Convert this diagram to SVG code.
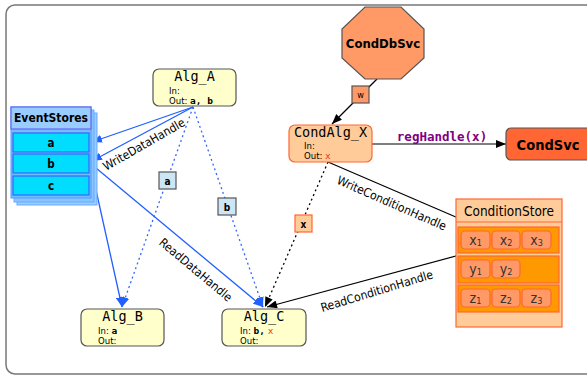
<svg xmlns="http://www.w3.org/2000/svg" width="587" height="376" viewBox="0 0 587 376">
<style>
  .sans { font-family: "DejaVu Sans Condensed", "DejaVu Sans", sans-serif; }
  .mono { font-family: "DejaVu Sans Mono", "Liberation Mono", monospace; }
  .alg { fill: #ffffcc; stroke: #555; stroke-width: 1.2; }
  .title { font-size: 13.5px; fill: #000; text-anchor: middle; }
  .small { font-size: 9.5px; fill: #000; }
  .bm { font-family: "DejaVu Sans Mono", monospace; font-weight: bold; }
  .red { fill: #ff3300; }
  .blue { stroke: #2060ff; stroke-width: 1.3; fill: none; }
  .bluedot { stroke: #3366ff; stroke-width: 1.3; fill: none; stroke-dasharray: 2 3; }
  .black { stroke: #000; stroke-width: 1.2; fill: none; }
  .blackdot { stroke: #000; stroke-width: 1.3; fill: none; stroke-dasharray: 2 3; }
  .lbl { font-size: 12px; fill: #000; text-anchor: middle; }
  .item { fill: #ff9966; stroke: #ff6633; stroke-width: 1.2; }
  .row { fill: #ff9900; stroke: #ff6633; stroke-width: 1.2; }
  .it { font-family: "DejaVu Sans Condensed", "DejaVu Sans", sans-serif; font-size: 14px; fill: #333; text-anchor: middle; }
  .es { fill: #00ddff; stroke: #3366ff; stroke-width: 1.2; }
  .lab { font-size: 10px; font-weight: bold; text-anchor: middle; }
</style>
<defs>
  <marker id="ab" viewBox="0 0 10 8" refX="10" refY="4" markerWidth="10" markerHeight="8" markerUnits="userSpaceOnUse" orient="auto">
    <path d="M0,0 L10,4 L0,8 z" fill="#2060ff"/>
  </marker>
  <marker id="ak" viewBox="0 0 10 8" refX="10" refY="4" markerWidth="11" markerHeight="8" markerUnits="userSpaceOnUse" orient="auto">
    <path d="M0,0 L10,4 L0,8 z" fill="#000"/>
  </marker>
</defs>

<rect x="6" y="5" width="620" height="369" rx="9" fill="#fff" stroke="#777" stroke-width="1.5"/>

<g id="connectors">
  <line class="blue" x1="193" y1="107" x2="92" y2="142" marker-end="url(#ab)"/>
  <line class="blue" x1="193" y1="107" x2="92" y2="161" marker-end="url(#ab)"/>
  <line class="bluedot" x1="193" y1="107" x2="122" y2="307" marker-end="url(#ab)"/>
  <line class="bluedot" x1="193" y1="107" x2="263" y2="307" marker-end="url(#ab)"/>
  <line class="blue" x1="90" y1="163" x2="122" y2="307" marker-end="url(#ab)"/>
  <line class="blue" x1="90" y1="163" x2="263" y2="307" marker-end="url(#ab)"/>
  <line class="blackdot" x1="328" y1="162" x2="265" y2="307" marker-end="url(#ak)"/>
  <line class="black" x1="328" y1="162" x2="493" y2="233" marker-end="url(#ak)"/>
  <line class="black" x1="493" y1="246" x2="267" y2="307" marker-end="url(#ak)"/>
  <line class="black" x1="377" y1="79" x2="332" y2="124" marker-end="url(#ak)"/>
  <line class="black" x1="372" y1="144" x2="506" y2="144" marker-end="url(#ak)"/>

  <text class="sans lbl" transform="translate(146,148) rotate(-30)">WriteDataHandle</text>
  <text class="sans lbl" transform="translate(193,273) rotate(40)">ReadDataHandle</text>
  <text class="sans lbl" transform="translate(390,207) rotate(23.6)">WriteConditionHandle</text>
  <text class="sans lbl" transform="translate(378,295) rotate(-17)">ReadConditionHandle</text>
  <text class="mono" x="442" y="141" font-size="12.5" font-weight="bold" fill="#800080" text-anchor="middle">regHandle(x)</text>

  <g id="lab-a">
    <rect x="159" y="172" width="17" height="17" fill="#cce6f5" stroke="#555" stroke-width="1.2"/>
    <text class="sans lab" x="167.5" y="184.5">a</text>
  </g>
  <g id="lab-b">
    <rect x="218" y="198" width="18" height="17" fill="#cce6f5" stroke="#555" stroke-width="1.2"/>
    <text class="sans lab" x="227" y="210.5">b</text>
  </g>
  <g id="lab-x">
    <rect x="295" y="215" width="17" height="17" fill="#ffcc99" stroke="#ff6633" stroke-width="1.2"/>
    <text class="sans lab" x="303.5" y="227.5">x</text>
  </g>
  <g id="lab-w">
    <rect x="352" y="86" width="17" height="17" fill="#ff9966" stroke="#555" stroke-width="1.2"/>
    <text class="sans" x="360.5" y="98" font-size="9" text-anchor="middle">w</text>
  </g>
</g>

<g id="EventStores">
  <rect x="17" y="113" width="80" height="92" fill="#99ccff" stroke="#66aaff" stroke-width="1"/>
  <rect x="14" y="110" width="80" height="92" fill="#88c4ff" stroke="#66aaff" stroke-width="1"/>
  <rect x="11" y="107" width="80" height="91" fill="#77bbff" stroke="#5599ff" stroke-width="1"/>
  <rect x="11" y="107" width="80" height="22" fill="#99ccff" stroke="#6666ee" stroke-width="1.2"/>
  <text class="sans" x="51" y="122" font-size="12" font-weight="bold" text-anchor="middle">EventStores</text>
  <rect class="es" x="13" y="133" width="76" height="19"/>
  <rect class="es" x="13" y="154" width="76" height="19"/>
  <rect class="es" x="13" y="176" width="76" height="19"/>
  <text class="sans" x="51" y="147" font-size="11.5" font-weight="bold" text-anchor="middle">a</text>
  <text class="sans" x="51" y="168" font-size="11.5" font-weight="bold" text-anchor="middle">b</text>
  <text class="sans" x="51" y="190" font-size="11.5" font-weight="bold" text-anchor="middle">c</text>
</g>

<g id="Alg_A">
  <rect class="alg" x="153" y="69" width="83" height="37" rx="6"/>
  <text class="mono title" x="194.5" y="81">Alg_A</text>
  <text class="sans small" x="169" y="94">In:</text>
  <text class="sans small" x="169" y="104">Out: <tspan class="bm">a, b</tspan></text>
</g>

<g id="Alg_B">
  <rect class="alg" x="81" y="309" width="83" height="37" rx="6"/>
  <text class="mono title" x="122.5" y="321">Alg_B</text>
  <text class="sans small" x="98" y="334">In: <tspan class="bm">a</tspan></text>
  <text class="sans small" x="98" y="344">Out:</text>
</g>

<g id="Alg_C">
  <rect class="alg" x="222" y="309" width="84" height="37" rx="6"/>
  <text class="mono title" x="264" y="321">Alg_C</text>
  <text class="sans small" x="240" y="334">In: <tspan class="bm">b,</tspan> <tspan class="red" font-family="DejaVu Sans Mono, monospace">x</tspan></text>
  <text class="sans small" x="240" y="344">Out:</text>
</g>

<g id="CondDbSvc">
  <polygon points="365,7 401,7 424,29 424,58 401,79 365,79 342,58 342,29" fill="#ff9966" stroke="#555" stroke-width="1.2"/>
  <text class="sans" x="383" y="48" font-size="13" font-weight="bold" text-anchor="middle">CondDbSvc</text>
</g>

<g id="CondAlg_X">
  <rect x="289" y="125" width="83" height="37" rx="6" fill="#ffcc99" stroke="#ff6633" stroke-width="1.2"/>
  <text class="mono title" x="330.5" y="137">CondAlg_X</text>
  <text class="sans small" x="304" y="149">In:</text>
  <text class="sans small" x="304" y="159">Out: <tspan class="red" font-family="DejaVu Sans Mono, monospace">x</tspan></text>
</g>

<g id="CondSvc">
  <rect x="506" y="128" width="86" height="32" rx="5" fill="#ff6633" stroke="#555" stroke-width="1.2"/>
  <text class="sans" x="548" y="149.5" font-size="14.5" font-weight="bold" text-anchor="middle">CondSvc</text>
</g>

<g id="ConditionStore">
  <rect x="456" y="199" width="106" height="128" fill="#ffcc99" stroke="#ff6633" stroke-width="1.2"/>
  <line x1="456" y1="222" x2="562" y2="222" stroke="#ff6633" stroke-width="1.2"/>
  <text class="sans" x="509" y="216" font-size="13.5" text-anchor="middle">ConditionStore</text>
  <rect class="row" x="458" y="227" width="101" height="26"/>
  <rect class="row" x="458" y="256" width="101" height="27"/>
  <rect class="row" x="458" y="285" width="101" height="27"/>
  <rect class="item" x="461" y="231" width="29" height="18" rx="4"/>
  <rect class="item" x="492" y="231" width="28" height="18" rx="4"/>
  <rect class="item" x="522" y="231" width="29" height="18" rx="4"/>
  <rect class="item" x="461" y="260" width="29" height="18" rx="4"/>
  <rect class="item" x="492" y="260" width="28" height="18" rx="4"/>
  <rect class="item" x="461" y="289" width="29" height="18" rx="4"/>
  <rect class="item" x="492" y="289" width="28" height="18" rx="4"/>
  <rect class="item" x="522" y="289" width="29" height="18" rx="4"/>
  <text class="it" x="475.5" y="245">x<tspan font-size="9" dy="1">1</tspan></text>
  <text class="it" x="506" y="245">x<tspan font-size="9" dy="1">2</tspan></text>
  <text class="it" x="536.5" y="245">x<tspan font-size="9" dy="1">3</tspan></text>
  <text class="it" x="475.5" y="274">y<tspan font-size="9" dy="1">1</tspan></text>
  <text class="it" x="506" y="274">y<tspan font-size="9" dy="1">2</tspan></text>
  <text class="it" x="475.5" y="303">z<tspan font-size="9" dy="1">1</tspan></text>
  <text class="it" x="506" y="303">z<tspan font-size="9" dy="1">2</tspan></text>
  <text class="it" x="536.5" y="303">z<tspan font-size="9" dy="1">3</tspan></text>
</g>
</svg>
